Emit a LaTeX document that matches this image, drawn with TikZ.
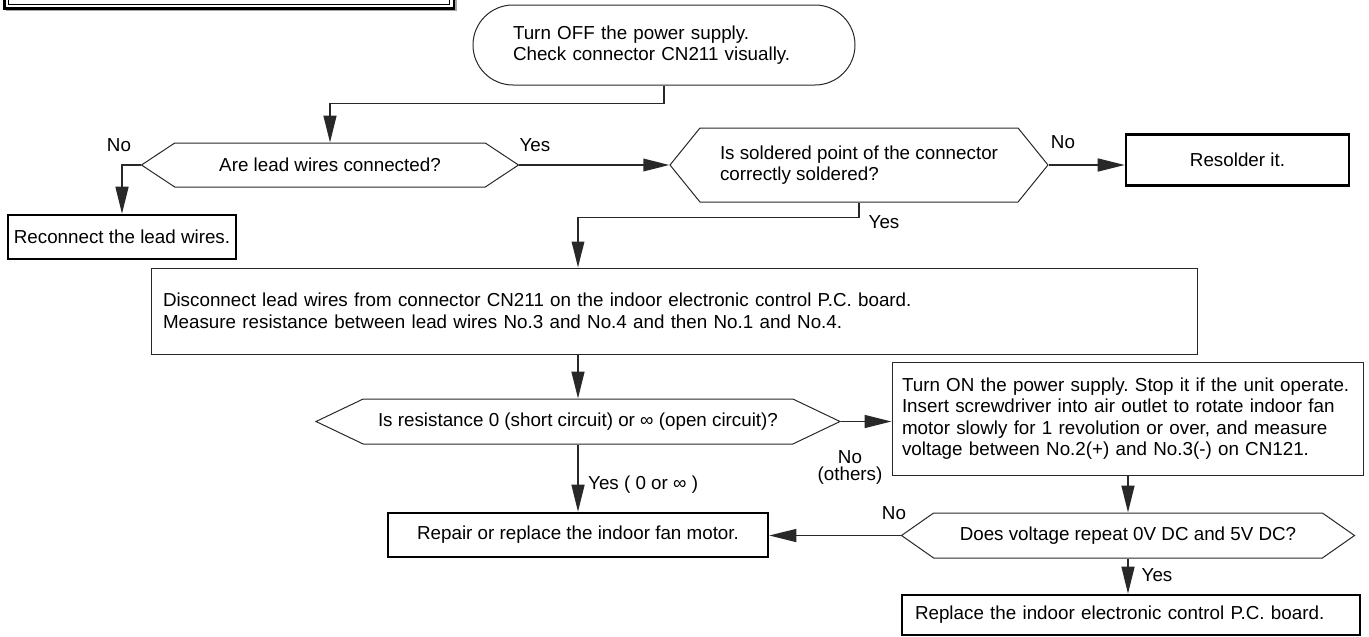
\documentclass[tikz,border=0pt]{standalone}
\usepackage{fontspec}
\setmainfont{Liberation Sans}
\usetikzlibrary{arrows.meta, shapes.symbols}
\definecolor{lineblack}{RGB}{40, 40, 40}
\frenchspacing

\tikzset{
    every node/.style={font=\fontsize{18.8}{21.5}\selectfont},
    terminal/.style={draw=lineblack, line width=1pt, rounded corners=40pt, minimum width=382pt, minimum height=80pt, align=left, text width=302pt, inner xsep=40pt, inner ysep=0pt},
    process/.style={draw=lineblack, line width=1pt, align=left, inner xsep=12pt, inner ysep=0pt},
    outcome/.style={draw=black, line width=2.6pt, inner sep=0pt},
    decision/.style={draw=lineblack, line width=1pt, shape=signal, signal to=east and west, inner sep=0pt},
    conn/.style={draw=lineblack, line width=1.4pt, -{Triangle[length=27pt, width=13pt]}},
    heavy/.style={line width=1.9pt, -{Triangle[length=26pt, width=12.5pt]}},
    lab/.style={inner sep=0pt},
}

\begin{document}
\begin{tikzpicture}[x=1pt, y=-1pt]
            \useasboundingbox (0,0) rectangle (1369,637);
            % frame of the title, cut at the top
            \draw[black!35, line width=2pt] (456,0) -- (456,10.3) -- (6,10.3);
            \draw[line width=2.5pt] (4.5,0) -- (4.5,8.5) -- (454,8.5) -- (454,0);
            \draw[line width=1.3pt] (8.5,0) -- (8.5,4.3) -- (449.5,4.3) -- (449.5,0);

            \node[terminal] (start) at (664,45) {Turn OFF the power supply.\\Check connector CN211 visually.};
            \node[decision, minimum width=377pt, minimum height=44pt, signal pointer angle=67] (wires) at (330,165) {Are lead wires connected?};
            \node[decision, minimum width=378pt, minimum height=74pt, signal pointer angle=102, align=left] (solder) at (859,165) {Is soldered point of the connector\\correctly soldered?};
            \node[outcome, minimum width=223pt, minimum height=51pt] (resolder) at (1237.5,160) {Resolder it.};
            \node[outcome, minimum width=228pt, minimum height=44pt] (reconnect) at (122,237) {Reconnect the lead wires.};
            \node[process, text width=1022pt, minimum height=86pt] (measure) at (674,311) {Disconnect lead wires from connector CN211 on the indoor electronic control P.C. board.\\Measure resistance between lead wires No.3 and No.4 and then No.1 and No.4.};
            \node[decision, minimum width=524pt, minimum height=45pt, signal pointer angle=51] (resist) at (578,421.5) {Is resistance 0 (short circuit) or ∞ (open circuit)?};
            \node[process, text width=451pt, inner xsep=10pt, minimum height=113pt] (rotate) at (1127.5,418.5) {Turn ON the power supply. Stop it if the unit operate.\\Insert screwdriver into air outlet to rotate indoor fan\\motor slowly for 1 revolution or over, and measure\\voltage between No.2(+) and No.3(-) on CN121.};
            \node[outcome, minimum width=380pt, minimum height=44pt] (repair) at (578,535) {Repair or replace the indoor fan motor.};
            \node[decision, minimum width=453pt, minimum height=45pt, signal pointer angle=70] (voltage) at (1128,535.5) {Does voltage repeat 0V DC and 5V DC?};
            \node[outcome, text width=432pt, inner xsep=13pt, minimum height=40pt, align=left] (replace) at (1131,615) {Replace the indoor electronic control P.C. board.};

            \node[lab] (wiresno) at (119,145) {No};
            \node[lab] (wiresyes) at (535,145) {Yes};
            \node[lab] (solderno) at (1063,142) {No};
            \node[lab] (solderyes) at (884,222) {Yes};
            \node[lab, align=center, font=\fontsize{18.8}{17}\selectfont] (resistno) at (850,467) {No\\(others)};
            \node[lab, anchor=west] (resistyes) at (588,485) {Yes ( 0 or ∞ )};
            \node[lab] (voltageno) at (894,513) {No};
            \node[lab] (voltageyes) at (1157,575) {Yes};

            \draw[conn] (start.south) -- ++(0,18) -| (wires.north);
            \draw[conn] (wires.west) -| (reconnect.north);
            \draw[conn, heavy] (wires.east) -- (solder.west);
            \draw[conn] (solder.east) -- (solder.east -| resolder.west);
            \draw[conn, heavy] (solder.south) -- ++(0,15) -| (resist.north |- measure.north);
            \draw[conn] (measure.south -| resist.north) -- (resist.north);
            \draw[conn] (resist.east) -- (resist.east -| rotate.west);
            \draw[conn] (resist.south) -- (repair.north);
            \draw[conn] (rotate.south -| voltage.north) -- (voltage.north);
            \draw[conn] (voltage.west) -- (voltage.west -| repair.east);
            \draw[conn] (voltage.south) -- (voltage.south |- replace.north);
        \end{tikzpicture}
\end{document}
